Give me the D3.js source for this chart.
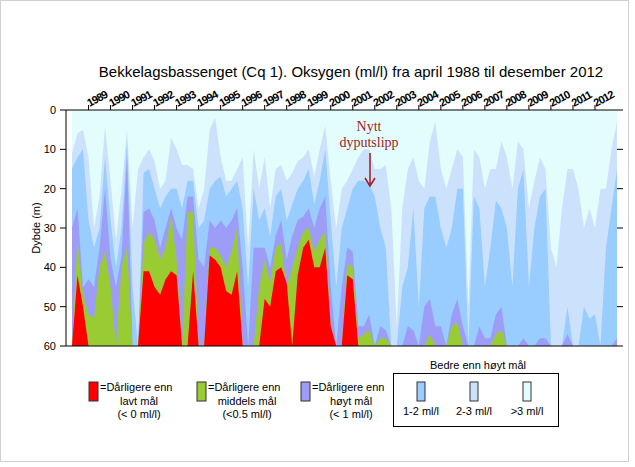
<!DOCTYPE html>
<meta charset="utf-8">
<html>
<head>
<script src="https://cdn.jsdelivr.net/npm/d3@7"></script>
<style>
  body { margin: 0; background: #fff; }
  text { font-family: Arial, "Liberation Sans", sans-serif; }
  text.serif { font-family: "Liberation Serif", "DejaVu Serif", serif; }
</style>
</head>
<body>
<div id="chart"></div>
<script>
// quarterly sample times, april 1988 .. end 2012
var times = d3.range(0, 100).map(function(i) { return 1988.25 + i * 0.25; });

// depth (m) of top of each class; 60 = not present
var lightTop = [11,6,5,12,30,22,4,18,33,20,5,30,15,12,10,13,20,18,7,10,14,14,15,25,20,5,2,12,18,18,15,12,35,10,20,12,25,15,14,18,16,13,12,10,17,10,4,18,30,20,18,15,12,10,10,15,15,14,25,55,25,15,12,18,20,8,3,15,20,15,10,12,50,10,12,20,15,15,8,12,20,8,10,25,18,12,15,35,40,25,15,15,20,30,25,30,20,20,10,3];
var blueTop  = [15,12,10,28,35,30,12,28,40,30,8,45,60,16,15,20,25,22,20,20,25,18,18,30,28,20,18,17,22,20,18,25,45,20,28,25,32,22,20,28,24,20,18,15,24,18,10,28,45,30,25,20,18,18,19,22,30,35,60,60,45,40,25,50,25,22,22,30,35,30,20,20,60,22,25,45,35,23,25,30,45,20,15,45,30,22,20,60,60,60,50,60,60,50,53,52,60,35,25,15];
var purpleTop= [30,25,45,43,45,35,20,38,45,37,12,60,60,26,25,28,35,30,25,30,33,22,22,38,40,28,30,28,30,28,25,40,60,35,35,35,40,32,28,38,32,28,27,25,30,25,22,45,60,45,35,36,55,55,52,60,55,56,60,60,60,55,56,60,50,48,55,55,60,52,48,55,60,60,55,58,58,52,50,60,60,60,58,60,60,58,58,60,60,60,57,60,60,60,60,60,60,60,60,58];
var greenTop = [60,33,47,52,53,40,36,45,60,40,35,60,60,34,31,33,38,35,27,38,60,26,26,60,60,35,35,37,40,36,30,60,60,60,45,38,44,35,34,45,40,35,31,30,36,33,31,55,60,60,39,40,58,57,56,60,58,58,60,60,60,60,60,60,60,57,60,60,60,55,54,60,60,60,60,60,60,57,56,60,60,60,60,60,60,60,60,60,60,60,60,60,60,60,60,60,60,60,60,60];
var redTop   = [60,42,50,60,60,60,60,60,60,60,60,60,60,41,41,45,47,43,41,42,60,60,41,60,60,37,38,40,46,47,41,60,60,60,60,48,50,41,40,44,60,42,35,33,40,40,35,55,60,60,42,43,60,60,60,60,60,60,60,60,60,60,60,60,60,60,60,60,60,60,60,60,60,60,60,60,60,60,60,60,60,60,60,60,60,60,60,60,60,60,60,60,60,60,60,60,60,60,60,60];

var years = d3.range(1989, 2013);
var depthTicks = [0, 10, 20, 30, 40, 50, 60];

var layers = [
  {vals: lightTop,  color: "#cce2fc"},
  {vals: blueTop,   color: "#99ccff"},
  {vals: purpleTop, color: "#9d9df8"},
  {vals: greenTop,  color: "#99cc33"},
  {vals: redTop,    color: "#ff0000"}
];

var legendItems = [
  {x: 89,  color: "#ff0000", lines: ["lavt mål", "(< 0 ml/l)"]},
  {x: 197, color: "#99cc33", lines: ["middels mål", "(<0.5 ml/l)"]},
  {x: 301, color: "#9d9df8", lines: ["høyt mål", "(< 1 ml/l)"]}
];
var betterItems = [
  {x: 417, color: "#99ccff", label: "1-2 ml/l"},
  {x: 470, color: "#cce2fc", label: "2-3 ml/l"},
  {x: 523, color: "#e3fdfd", label: ">3 ml/l"}
];

var W = 635, H = 467;
var svg = d3.select("#chart").append("svg").attr("width", W).attr("height", H);

svg.append("rect").attr("x", 0.5).attr("y", 0.5).attr("width", 628).attr("height", 461)
  .attr("fill", "none").attr("stroke", "#d0d0d0");

var x = d3.scaleLinear().domain([1988.25, 2013]).range([72, 617]);
var y = d3.scaleLinear().domain([0, 60]).range([110, 346]);

// background = >3 ml/l
svg.append("rect").attr("x", x(1988.25)).attr("y", y(0))
  .attr("width", x(2013) - x(1988.25)).attr("height", y(60) - y(0))
  .attr("fill", "#e3fdfd");

layers.forEach(function(l) {
  var area = d3.area()
    .x(function(d, i) { return x(times[i]); })
    .y0(y(60))
    .y1(function(d) { return y(d); });
  svg.append("path").datum(l.vals).attr("d", area).attr("fill", l.color);
});

// axes
svg.append("line").attr("x1", 66).attr("x2", 617).attr("y1", y(0)).attr("y2", y(0)).attr("stroke", "#000");
svg.append("line").attr("x1", 66).attr("x2", 617).attr("y1", y(60)).attr("y2", y(60)).attr("stroke", "#000");
svg.append("line").attr("x1", 66).attr("x2", 66).attr("y1", y(0)).attr("y2", y(60)).attr("stroke", "#000");

var yAxis = svg.append("g").selectAll("g").data(depthTicks).enter().append("g");
yAxis.append("line").attr("x1", 60).attr("x2", 66).attr("y1", function(d) { return y(d); }).attr("y2", function(d) { return y(d); }).attr("stroke", "#000");
yAxis.append("line").attr("x1", 617).attr("x2", 623).attr("y1", function(d) { return y(d); }).attr("y2", function(d) { return y(d); }).attr("stroke", "#000");
yAxis.append("text").attr("x", 56).attr("y", function(d) { return y(d) + 4; })
  .attr("text-anchor", "end").attr("font-size", 11).text(function(d) { return d; });

var xAxis = svg.append("g").selectAll("g").data(years).enter().append("g");
xAxis.append("line").attr("x1", function(d) { return x(d); }).attr("x2", function(d) { return x(d); })
  .attr("y1", y(0) - 5).attr("y2", y(0)).attr("stroke", "#000");
xAxis.append("text")
  .attr("transform", function(d) { return "translate(" + (x(d) + 1) + "," + (y(0) - 3) + ") rotate(-28)"; })
  .attr("font-size", 11).attr("font-weight", "bold").attr("letter-spacing", -0.8)
  .text(function(d) { return d; });

svg.append("text").attr("x", 351).attr("y", 77).attr("text-anchor", "middle").attr("font-size", 15)
  .text("Bekkelagsbassenget (Cq 1). Oksygen (ml/l) fra april 1988 til desember 2012");
svg.append("text").attr("transform", "translate(40," + y(30) + ") rotate(-90)")
  .attr("text-anchor", "middle").attr("font-size", 11).text("Dybde (m)");

// annotation
var red = "#a01a1e";
svg.append("text").attr("class", "serif").attr("x", 369).attr("y", 131).attr("text-anchor", "middle")
  .attr("font-size", 14).attr("fill", red).text("Nytt");
svg.append("text").attr("class", "serif").attr("x", 369).attr("y", 147).attr("text-anchor", "middle")
  .attr("font-size", 14).attr("fill", red).text("dyputslipp");
svg.append("line").attr("x1", 370).attr("x2", 370).attr("y1", 153).attr("y2", 184).attr("stroke", red).attr("stroke-width", 1.5);
svg.append("path").attr("d", "M365,178 L370,186 L375,178").attr("fill", "none").attr("stroke", red).attr("stroke-width", 1.5);

// legend
legendItems.forEach(function(it) {
  svg.append("rect").attr("x", it.x).attr("y", 382).attr("width", 9).attr("height", 19)
    .attr("fill", it.color).attr("stroke", "#333");
  svg.append("text").attr("x", it.x + 11).attr("y", 391).attr("font-size", 11).text("=Dårligere enn");
  it.lines.forEach(function(s, i) {
    svg.append("text").attr("x", it.x + 50).attr("y", 405 + i * 13).attr("text-anchor", "middle")
      .attr("font-size", 11).text(s);
  });
});
svg.append("rect").attr("x", 393.5).attr("y", 373.5).attr("width", 165).attr("height", 53)
  .attr("fill", "none").attr("stroke", "#000");
svg.append("text").attr("x", 478).attr("y", 369).attr("text-anchor", "middle").attr("font-size", 11)
  .text("Bedre enn høyt mål");
betterItems.forEach(function(it) {
  svg.append("rect").attr("x", it.x).attr("y", 382).attr("width", 8).attr("height", 19)
    .attr("fill", it.color).attr("stroke", "#333");
  svg.append("text").attr("x", it.x + 4).attr("y", 415).attr("text-anchor", "middle")
    .attr("font-size", 11).text(it.label);
});
</script>
</body>
</html>
